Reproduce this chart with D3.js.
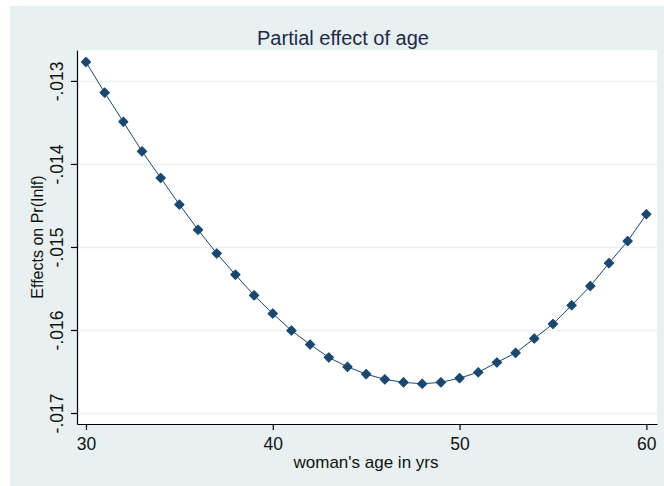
<!DOCTYPE html>
<html>
<head>
<meta charset="utf-8">
<script src="https://cdn.jsdelivr.net/npm/d3@7"></script>
<style>
  body { margin: 0; background: #ffffff; }
  svg { display: block; font-family: "Liberation Sans", Arial, sans-serif; }
</style>
</head>
<body>
<svg id="chart"></svg>
<script>
var ages = [30, 31, 32, 33, 34, 35, 36, 37, 38, 39, 40, 41, 42, 43, 44, 45,
    46, 47, 48, 49, 50, 51, 52, 53, 54, 55, 56, 57, 58, 59, 60];
var effects = [-0.012772, -0.013141, -0.013492, -0.013849, -0.014169, -0.014489,
    -0.014793, -0.015078, -0.015334, -0.015583, -0.015802, -0.016007, -0.016175,
    -0.016331, -0.016444, -0.016532, -0.016595, -0.016631, -0.016648, -0.016631,
    -0.016580, -0.016510, -0.016391, -0.016276, -0.016103, -0.015927, -0.015703,
    -0.015471, -0.015195, -0.014930, -0.014606];
var xTicks = [30, 40, 50, 60];
var yTicks = [-0.013, -0.014, -0.015, -0.016, -0.017];
var yTickLabels = ["-.013", "-.014", "-.015", "-.016", "-.017"];

var width = 664, height = 486;
var plot = { left: 77, top: 50, right: 657, bottom: 424 };
var markColor = "#1a476f";

var svg = d3.select("#chart").attr("width", width).attr("height", height);

// outer background and plot region
svg.append("rect").attr("x", 10).attr("y", 6)
    .attr("width", width - 10).attr("height", height - 6)
    .attr("fill", "#e8f0f2");
svg.append("rect").attr("x", plot.left).attr("y", plot.top)
    .attr("width", plot.right - plot.left).attr("height", plot.bottom - plot.top)
    .attr("fill", "#ffffff");

var x = d3.scaleLinear().domain([29.52, 60.57]).range([plot.left, plot.right]);
var y = d3.scaleLinear().domain([-0.0171325, -0.0126275]).range([plot.bottom, plot.top]);

// grid lines
svg.append("g").selectAll("line")
    .data(yTicks)
    .enter().append("line")
    .attr("x1", plot.left).attr("x2", plot.right)
    .attr("y1", d => Math.round(y(d)) + 0.5).attr("y2", d => Math.round(y(d)) + 0.5)
    .attr("stroke", "#eaf2f3").attr("stroke-width", 1.5);

// axes
var xAxis = svg.append("g")
    .attr("transform", "translate(0," + plot.bottom + ")")
    .call(d3.axisBottom(x).tickValues(xTicks).tickSize(6).tickPadding(8).tickSizeOuter(0));
var yAxis = svg.append("g")
    .attr("transform", "translate(" + plot.left + ",0)")
    .call(d3.axisLeft(y).tickValues(yTicks).tickSize(6).tickSizeOuter(0)
        .tickFormat((d, i) => yTickLabels[i]));

[xAxis, yAxis].forEach(function (g) {
    g.select(".domain").attr("stroke", "#000").attr("stroke-width", 1.2);
    g.selectAll(".tick line").attr("stroke", "#000").attr("stroke-width", 1.2);
    g.selectAll("text").attr("fill", "#111").style("font-size", "17.5px")
        .style("font-family", "Liberation Sans, Arial, sans-serif");
});
yAxis.selectAll(".tick text")
    .attr("x", 0).attr("dy", 0)
    .attr("transform", "translate(-14,0) rotate(-90)")
    .attr("text-anchor", "middle");

// line and markers
var line = d3.line().x((d, i) => x(ages[i])).y(d => y(d));
svg.append("path")
    .datum(effects)
    .attr("d", line)
    .attr("fill", "none")
    .attr("stroke", markColor)
    .attr("stroke-width", 1);

svg.append("g").selectAll("path")
    .data(effects)
    .enter().append("path")
    .attr("d", d3.symbol().type(d3.symbolSquare).size(44))
    .attr("transform", (d, i) => "translate(" + x(ages[i]) + "," + y(d) + ") rotate(45)")
    .attr("fill", markColor)
    .attr("stroke", markColor)
    .attr("stroke-width", 1)
    .attr("stroke-linejoin", "round");

// titles
svg.append("text")
    .attr("x", 343).attr("y", 45)
    .attr("text-anchor", "middle")
    .attr("fill", "#1e2a48")
    .style("font-size", "20px")
    .text("Partial effect of age");
svg.append("text")
    .attr("x", 366).attr("y", 468)
    .attr("text-anchor", "middle")
    .attr("fill", "#111")
    .style("font-size", "17px")
    .text("woman's age in yrs");
svg.append("text")
    .attr("transform", "translate(43,237) rotate(-90)")
    .attr("text-anchor", "middle")
    .attr("fill", "#111")
    .style("font-size", "16px")
    .text("Effects on Pr(Inlf)");
</script>
</body>
</html>
